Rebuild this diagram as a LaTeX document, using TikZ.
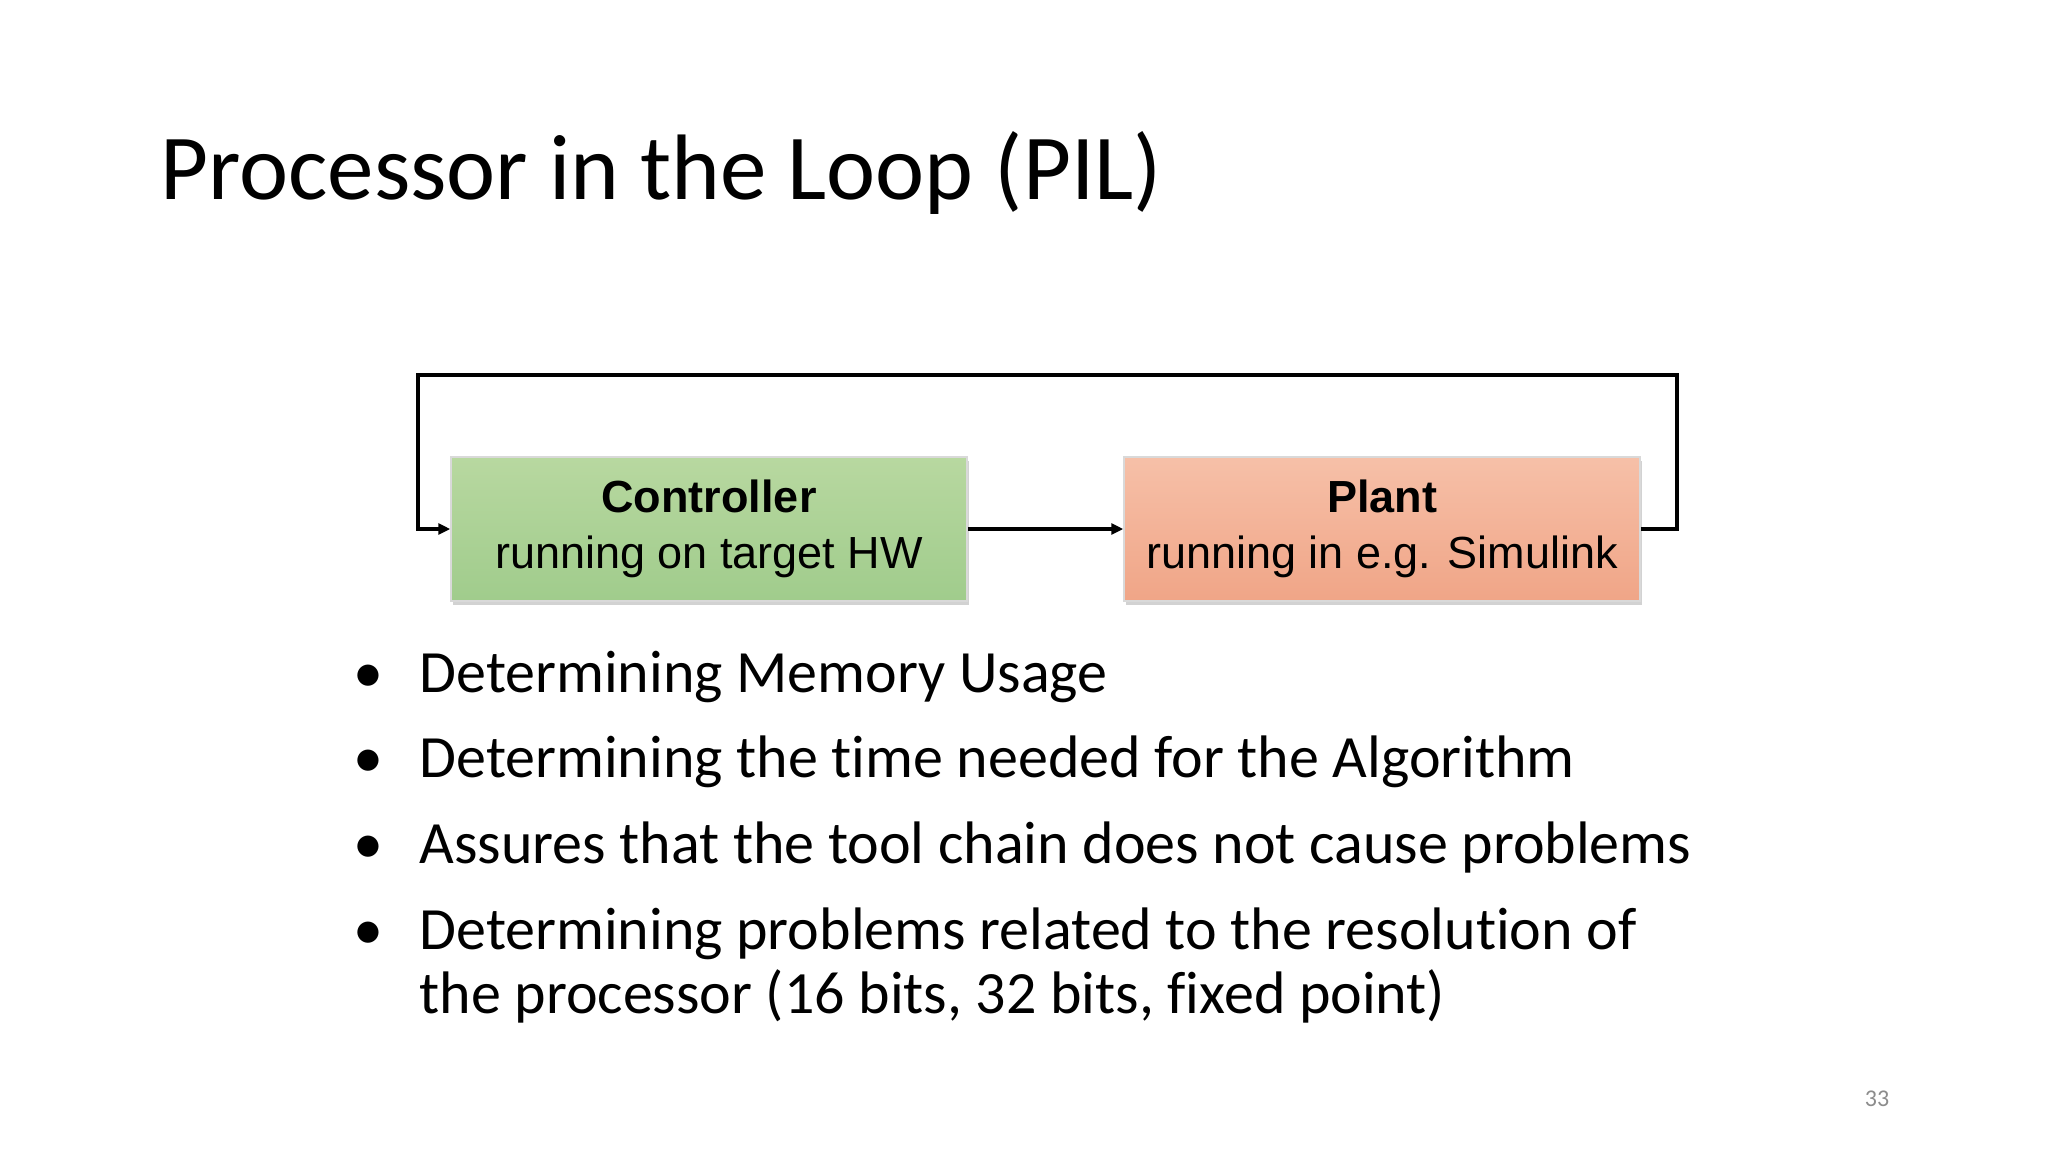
\documentclass[tikz,border=0pt]{standalone}
\usepackage{fontspec}
\setmainfont{Carlito}[Ligatures=NoCommon]
\newfontfamily\arialfont{Liberation Sans}
\usetikzlibrary{arrows.meta,positioning,shadows}

\begin{document}
\begin{tikzpicture}[x=1pt,y=-1pt,
  block/.style={minimum width=516pt,minimum height=144pt,inner sep=0pt,align=center,
    font=\arialfont\fontsize{45}{56}\selectfont,draw=white!85!black,line width=1.5pt,
    drop shadow={shadow xshift=2pt,shadow yshift=-4pt,opacity=0.35}},
  link/.style={line width=3.5pt,-{Triangle[length=12pt,width=11pt]}},
  item/.style={anchor=base west,font=\fontsize{60}{64}\selectfont}]

\useasboundingbox (0,0) rectangle (2048,1152);
\fill[white] (0,0) rectangle (2048,1152);

\node[anchor=base west,font=\fontsize{93}{100}\selectfont] (title) at (157,199) {Processor in the Loop (PIL)};

% control loop
\node[block,top color={rgb,255:red,184;green,216;blue,160},bottom color={rgb,255:red,160;green,204;blue,140}] (ctrl) at (709,529)
  {\textbf{Controller}\\running on target HW};
\node[block,top color={rgb,255:red,246;green,192;blue,168},bottom color={rgb,255:red,240;green,165;blue,135}] (plant) at (1382,529)
  {\textbf{Plant}\\running in e.g. Simulink};

\coordinate (ur) at (1677,375);
\coordinate (ul) at (418,375);

\draw[link] (ctrl.east) -- (plant.west);
\draw[link] (plant.east) -| (ur) -- (ul) |- (ctrl.west);

% bullets
\foreach \y/\txt in {692/Determining Memory Usage,
                     777/Determining the time needed for the Algorithm,
                     863/Assures that the tool chain does not cause problems,
                     949/Determining problems related to the resolution of} {
  \node[font=\fontsize{60}{64}\selectfont,anchor=base] at (368,\y) {•};
  \node[item] at (416,\y) {\txt};
}
\node[item] (wrap) at (416,1013) {the processor (16 bits, 32 bits, fixed point)};

\node[anchor=base,text=black!45,font=\fontsize{24}{28}\selectfont] (page) at (1877,1106) {33};
\end{tikzpicture}
\end{document}
